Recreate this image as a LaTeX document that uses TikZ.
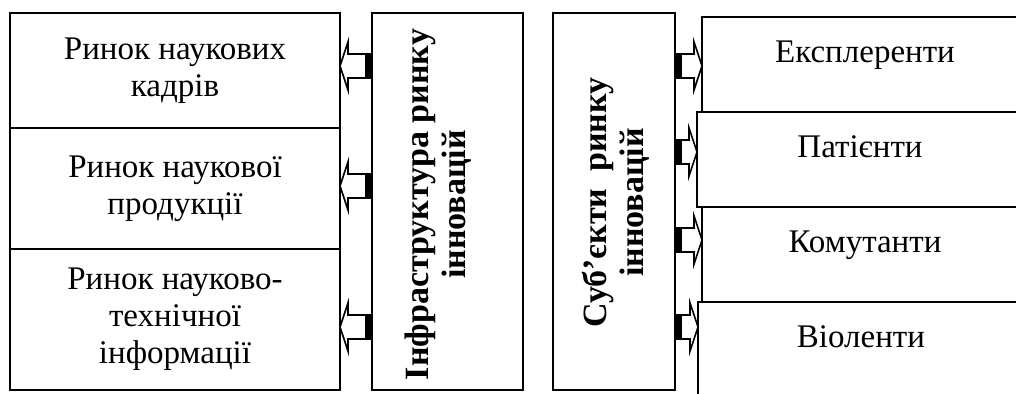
\documentclass[tikz,border=0pt]{standalone}
\usepackage{fontspec}
\setmainfont{Liberation Serif}
\usetikzlibrary{positioning,calc}

% block arrow: base node anchor, tip node anchor, height
\newcommand{\blockarrow}[3]{%
  \coordinate (ab) at (#1 |- 0,#3);
  \coordinate (at) at (#2 |- 0,#3);
  \coordinate (ah) at ($(at)!4pt!(ab)$);
  \fill ($(ab)+(0,6)$) rectangle ($(ab)!3.5pt!(at)+(0,-6)$);
  \draw[barrow] ($(ab)+(0,6)$) -- ($(ah)+(0,6)$) -- ($(ah)+(0,12)$) -- (at)
    -- ($(ah)+(0,-12)$) -- ($(ah)+(0,-6)$) -- ($(ab)+(0,-6)$);
}

\begin{document}
\begin{tikzpicture}[x=1pt, y=1pt,
    font=\fontsize{16.5}{18.5}\selectfont,
    market/.style={draw, line width=1pt, outer sep=0pt, align=center, minimum width=165pt, inner sep=0pt},
    tall/.style={draw, line width=1pt, outer sep=0pt, minimum height=188.5pt, anchor=north west},
    vtext/.style={rotate=90, align=center, font=\fontsize{17}{18.5}\selectfont\bfseries},
    subj/.style={draw, line width=1pt, outer sep=0pt, minimum width=163pt, inner ysep=0pt, text height=23pt, text depth=24.5pt},
    barrow/.style={line width=0.8pt, line join=miter}
  ]
    \clip (0,0) rectangle (508,-197);

    \node[market, minimum height=57.5pt, anchor=north west] (kadry) at (5,-6.5) {Ринок наукових\\кадрів};
    \node[market, minimum height=60.5pt, below=0pt of kadry] (prod) {Ринок наукової\\продукції};
    \node[market, minimum height=70.5pt, below=0pt of prod] (info) {Ринок науково-\\технічної\\інформації};

    \node[tall, minimum width=75.5pt] (infra) at (186,-6.5) {};
    \node[vtext] (infratxt) at ($(infra.center)+(-4.5,-1.5)$) {Інфраструктура ринку\\інновацій};

    \node[tall, minimum width=61pt] (subjects) at (276.5,-6.5) {};
    \node[vtext] (subjtxt) at ($(subjects.center)+(1,-0.5)$) {Суб’єкти\ \ ринку\\інновацій};

    \node[subj, anchor=north west] (expl) at (351,-8.5) {Експлеренти};
    \node[subj, below=0pt of expl, xshift=-2.5pt] (pat) {Патієнти};
    \node[subj, below=0pt of pat, xshift=2.5pt] (kom) {Комутанти};
    \node[subj, below=0pt of kom, xshift=-2pt] (viol) {Віоленти};

    \blockarrow{infra.west}{kadry.east}{-33}
    \blockarrow{infra.west}{prod.east}{-93}
    \blockarrow{infra.west}{info.east}{-163.5}

    \blockarrow{subjects.east}{expl.west}{-33}
    \blockarrow{subjects.east}{pat.west}{-76}
    \blockarrow{subjects.east}{kom.west}{-120}
    \blockarrow{subjects.east}{viol.west}{-163.5}
  \end{tikzpicture}
\end{document}
